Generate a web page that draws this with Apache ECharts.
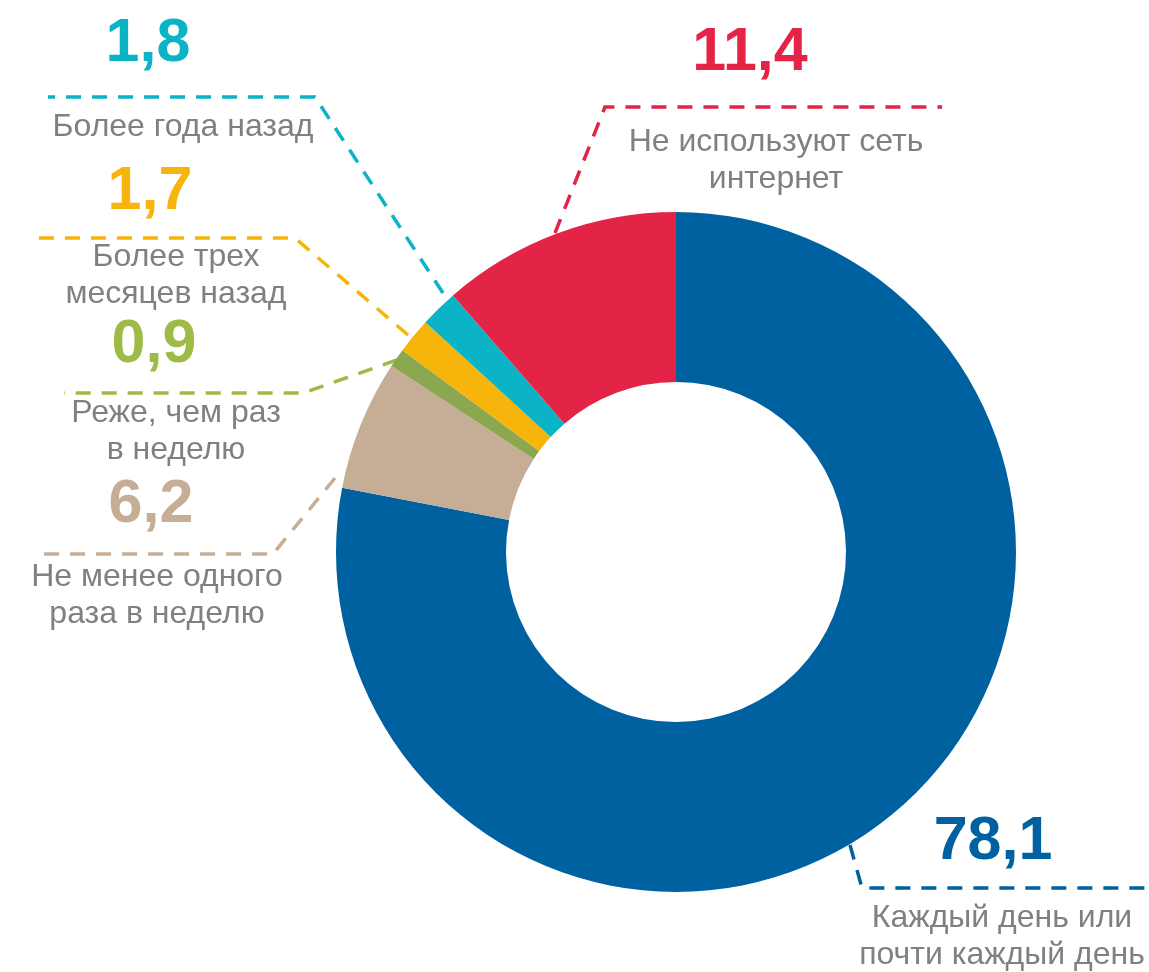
<!DOCTYPE html>
<html>
<head>
<meta charset="utf-8">
<script src="https://cdn.jsdelivr.net/npm/echarts@6/dist/echarts.min.js"></script>
<style>
  html, body { margin: 0; padding: 0; background: #ffffff; }
  #chart { width: 1149px; height: 972px; }
</style>
</head>
<body>
<div id="chart"></div>
<script>
// ---- data ----
const categories = [
  'Каждый день или\nпочти каждый день',
  'Не менее одного\nраза в неделю',
  'Реже, чем раз\nв неделю',
  'Более трех\nмесяцев назад',
  'Более года назад',
  'Не используют сеть\nинтернет'
];
const values = [78.1, 6.2, 0.9, 1.7, 1.8, 11.4];

// ---- styles ----
const sliceColors = ['#0061A0', '#C6AE96', '#8BA750', '#F7B50B', '#0AB3C5', '#E32447'];
const accentColors = ['#0061A0', '#C6AE96', '#9DBB46', '#F7B50B', '#0AB3C5', '#E32447'];
const FONT = '"Liberation Sans", Arial, sans-serif';

// ---- label layout (positions only) ----
const valuePos = [   // center x, middle y
  [993, 842], [151, 505], [154, 345], [150, 192], [148, 44], [750, 53]
];
const namePos = [    // center x, top y
  [1002, 900], [157, 559], [176, 395], [176, 239], [183, 109], [776, 124]
];
const leaderLines = [
  [[850, 845], [862, 888], [1148, 888]],
  [[335, 478], [273, 554], [33, 554]],
  [[397, 360], [303, 393], [64, 393]],
  [[408, 335], [295, 238], [38, 238]],
  [[443, 293], [315, 97], [48, 97]],
  [[555, 233], [605, 107], [942, 107]]
];

const fmt = v => v.toFixed(1).replace('.', ',');

const mainData = values.map((v, i) => ({
  name: categories[i],
  value: v,
  itemStyle: { color: sliceColors[i] },
  label: { color: accentColors[i] },
  labelLine: { lineStyle: { color: accentColors[i] } }
}));
const nameData = values.map((v, i) => ({ name: categories[i], value: v }));

const chart = echarts.init(document.getElementById('chart'), null, { renderer: 'canvas' });
chart.setOption({
  animation: false,
  backgroundColor: '#ffffff',
  series: [
    {
      type: 'pie',
      center: [676, 552],
      radius: [170, 340],
      startAngle: 90,
      clockwise: true,
      avoidLabelOverlap: false,
      silent: true,
      data: mainData,
      label: {
        show: true,
        position: 'outside',
        formatter: p => fmt(p.value),
        fontFamily: FONT,
        fontWeight: 'bold',
        fontSize: 61,
        lineHeight: 61
      },
      labelLine: {
        show: true,
        lineStyle: { width: 3.5, type: [15, 11] }
      },
      labelLayout: function (params) {
        const i = params.dataIndex;
        return {
          x: valuePos[i][0],
          y: valuePos[i][1],
          align: 'center',
          verticalAlign: 'middle',
          labelLinePoints: leaderLines[i]
        };
      }
    },
    {
      type: 'pie',
      center: [676, 552],
      radius: [170, 340],
      startAngle: 90,
      clockwise: true,
      avoidLabelOverlap: false,
      silent: true,
      itemStyle: { color: 'rgba(0,0,0,0)' },
      data: nameData,
      label: {
        show: true,
        position: 'outside',
        formatter: p => p.name,
        fontFamily: FONT,
        fontSize: 32,
        lineHeight: 37,
        color: '#808080',
        align: 'center'
      },
      labelLine: { show: false },
      labelLayout: function (params) {
        const i = params.dataIndex;
        return {
          x: namePos[i][0],
          y: namePos[i][1],
          align: 'center',
          verticalAlign: 'top'
        };
      }
    }
  ]
});
</script>
</body>
</html>
